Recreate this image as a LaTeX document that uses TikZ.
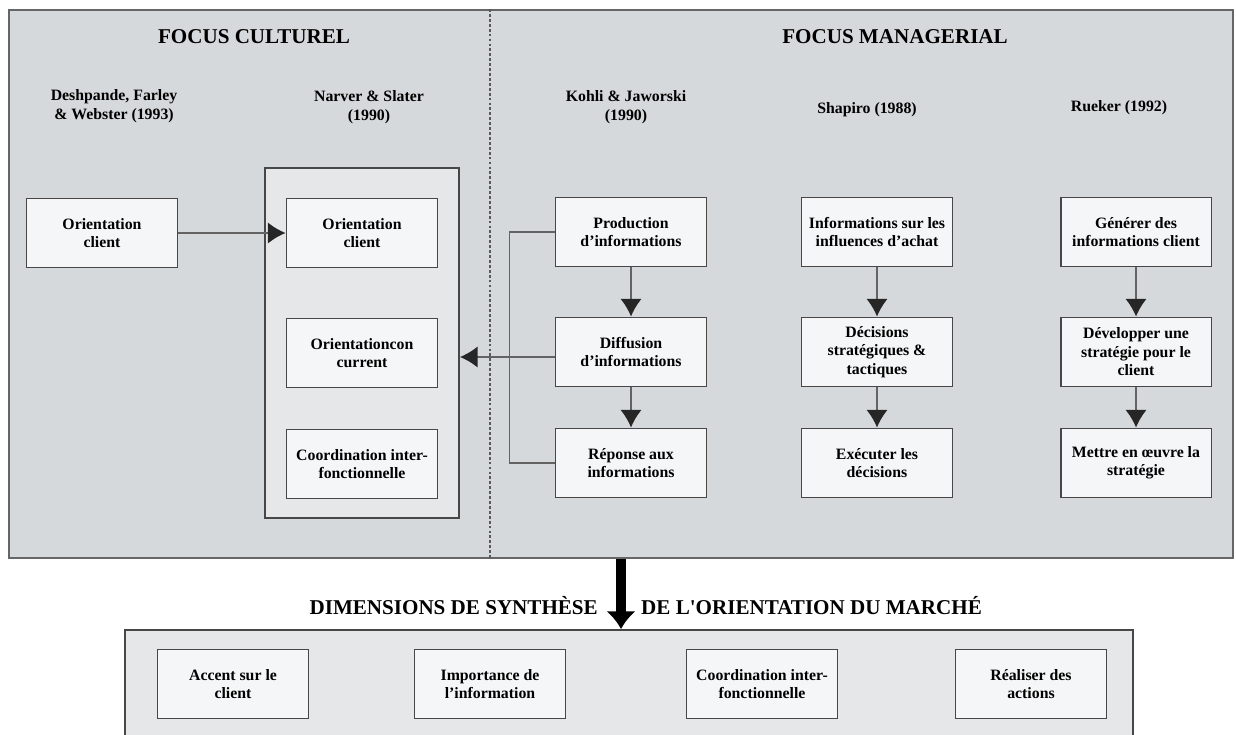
\documentclass[tikz,border=0pt]{standalone}
\usepackage{fontspec}
\setmainfont{Liberation Serif}
\usepackage{xcolor}
\usetikzlibrary{arrows.meta}
\definecolor{panelgray}{HTML}{D6D9DB}
\definecolor{framegray}{HTML}{E6E7E8}
\definecolor{boxwhite}{HTML}{F5F6F7}
\definecolor{linegray}{HTML}{474747}

\begin{document}
\begin{tikzpicture}[x=0.02cm, y=-0.02cm,
        box/.style={draw=linegray, line width=1.1pt, fill=boxwhite, minimum width=3.02cm, minimum height=1.38cm, inner sep=1pt, align=center, font=\bfseries\fontsize{9}{10.5}\selectfont},
        author/.style={align=center, font=\bfseries\fontsize{9}{10.5}\selectfont},
        heading/.style={font=\bfseries\fontsize{12}{14}\selectfont},
        link/.style={draw=linegray!85, line width=0.9pt},
        flow/.style={link, -{Latex[length=10pt, width=12pt, color=black!85]}}]
        \clip (0,0) rectangle (1236,734);
        \fill[white] (0,0) rectangle (1236,734);
        \node[draw=gray!80!black, line width=1.1pt, fill=panelgray, minimum width=24.48cm, minimum height=10.96cm, inner sep=0pt] (panel) at (621,284) {};
        \draw[gray!70!black, line width=0.9pt, dash pattern=on 1.6pt off 1.2pt] (panel.north -| 490,0) -- (panel.south -| 490,0);
        \node[draw=linegray, line width=1.1pt, fill=framegray, minimum width=3.88cm, minimum height=7cm, inner sep=0pt] (narver) at (362,343) {};
        \node[draw=linegray, line width=1.1pt, fill=framegray, minimum width=20.16cm, minimum height=2.4cm, inner sep=0pt] (synth) at (629,690) {};

        \node[heading] (cult) at (254,37) {FOCUS CULTUREL};
        \node[heading] (manag) at (895,37) {FOCUS MANAGERIAL};
        \node[author] (desh) at (114,106) {Deshpande, Farley\\\& Webster (1993)};
        \node[author] (narv) at (369,107) {Narver \& Slater\\(1990)};
        \node[author] (kohli) at (626,107) {Kohli \& Jaworski\\(1990)};
        \node[author] (shap) at (867,110) {Shapiro (1988)};
        \node[author] (ruek) at (1119,108) {Rueker (1992)};

        \node[box] (oca) at (102,233) {Orientation\\client};
        \node[box] (ocb) at (362,233) {Orientation\\client};
        \node[box] (occ) at (362,353) {Orientationcon\\current};
        \node[box] (cif) at (362,464) {Coordination inter-\\fonctionnelle};

        \node[box] (prod) at (631,232) {Production\\d'informations};
        \node[box] (diff) at (631,352) {Diffusion\\d'informations};
        \node[box] (rep) at (631,463) {Réponse aux\\informations};

        \node[box] (infl) at (877,232) {Informations sur les\\influences d'achat};
        \node[box] (deci) at (877,352) {Décisions\\stratégiques \&\\tactiques};
        \node[box] (exec) at (877,463) {Exécuter les\\décisions};

        \node[box] (gene) at (1136,232) {Générer des\\informations client};
        \node[box] (deve) at (1136,352) {Développer une\\stratégie pour le\\client};
        \node[box] (mett) at (1136,463) {Mettre en œuvre la\\stratégie};

        \node[box] (acc) at (233,684) {Accent sur le\\client};
        \node[box] (imp) at (490,684) {Importance de\\l'information};
        \node[box] (coo) at (762,684) {Coordination inter-\\fonctionnelle};
        \node[box] (rea) at (1031,684) {Réaliser des\\actions};

        \draw[flow] (oca) -- (ocb);
        \draw[link] (prod.west) -- ++(-45,0) |- (rep.west);
        \draw[flow] ([yshift=-0.1cm]diff.west) -- ([yshift=-0.1cm]narver.east |- diff.west);
        \draw[flow] (prod) -- (diff);
        \draw[flow] (diff) -- (rep);
        \draw[flow] (infl) -- (deci);
        \draw[flow] (deci) -- (exec);
        \draw[flow] (gene) -- (deve);
        \draw[flow] (deve) -- (mett);

        \node[heading, anchor=base east] (diml) at (604,614) {DIMENSIONS DE SYNTHÈSE};
        \node[heading, anchor=base west] (dimr) at (635,614) {DE L\textquotesingle ORIENTATION DU MARCHÉ};
        \draw[black, line width=5.5pt, -{Latex[length=10pt, width=17pt]}] (panel.south) -- (panel.south |- synth.north);
    \end{tikzpicture}
\end{document}
